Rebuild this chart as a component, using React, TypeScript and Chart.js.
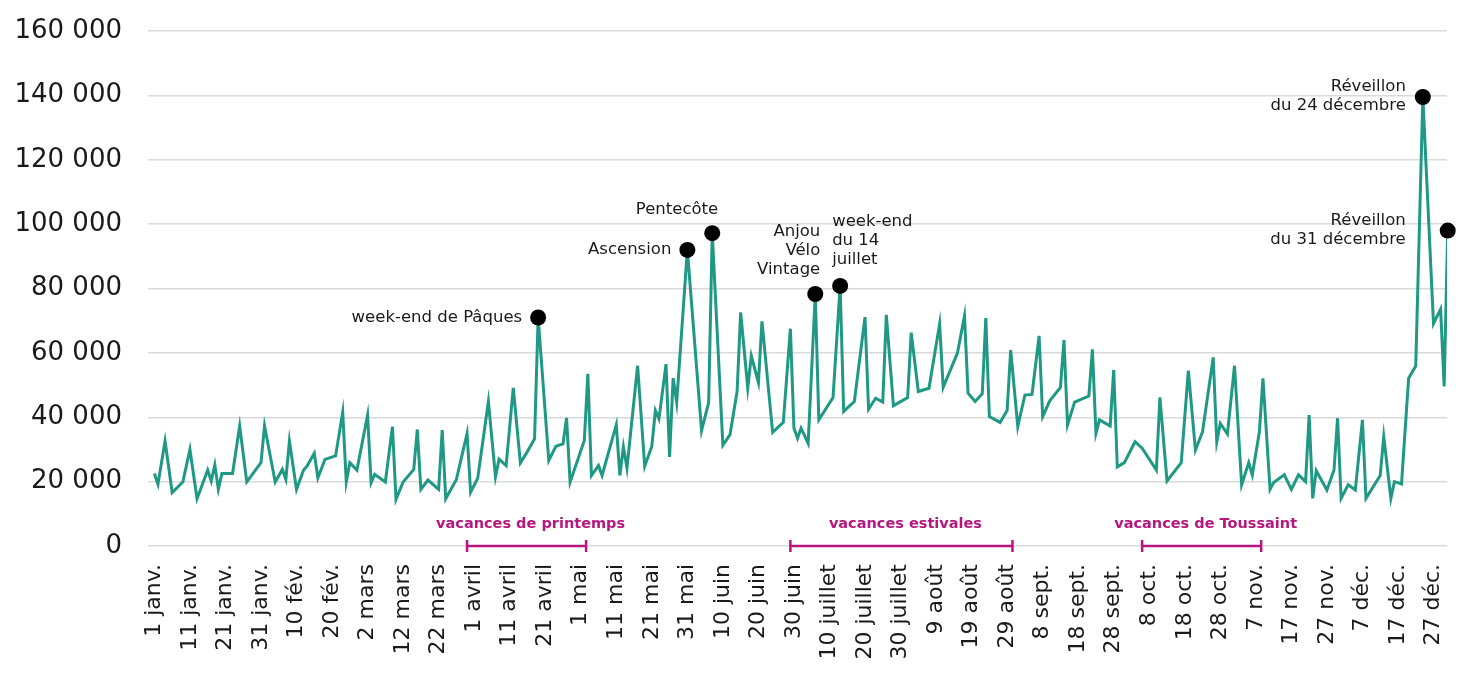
import React, { useEffect, useRef } from 'react';
import { Chart, registerables } from 'chart.js';

Chart.register(...registerables);

// Day index in the year (0 = 1 janv.) and daily visitors at each vertex of the curve
const days = [
  0, 1, 3, 5, 8, 10, 12, 15, 16, 17, 18, 19, 22, 24, 26, 30, 31, 34, 36, 37, 38, 40, 42, 43, 45, 46, 48, 51,
  53, 54, 55, 57, 60, 61, 62, 65, 67, 68, 70, 73, 74, 75, 77, 80, 81, 82, 85, 88, 89,
  91, 94, 96, 97, 99, 101, 103, 105, 107, 108, 111, 113, 115, 116, 117, 121, 122, 123, 125, 126, 130, 131,
  132, 133, 136, 138, 140, 141, 142, 144, 145, 146, 147, 150, 154, 156, 157, 160, 162, 164, 165, 167, 168,
  170, 171, 174, 177, 179, 180, 181, 182, 184, 186, 187, 191, 193, 194, 197, 200, 201, 203, 205, 206, 208,
  212, 213, 215, 218, 221, 222, 226, 228, 229, 231, 233, 234, 235, 238, 240, 241, 243, 245, 247, 249, 250,
  252, 255, 256, 257, 259, 263, 264, 265, 266, 269, 270, 271, 273, 276, 278, 282, 283, 285, 289, 291, 293,
  295, 298, 299, 300, 302, 304, 306, 308, 309, 311, 312, 314, 315, 318, 320, 322, 324, 325, 326, 327, 330,
  332, 333, 334, 336, 338, 340, 341, 345, 346, 348, 349, 351, 353, 355, 357, 360, 362, 363, 364,
];
const visitors = [
  22500, 19200, 32600, 16600, 19900, 30000, 14700, 23600, 20200, 25200, 17600, 22500, 22500, 37300, 19900,
  25900, 37300, 19900, 23800, 20700, 32600, 17600, 23600, 24900, 28800, 21200, 26900, 28000,
  41600, 19900, 25900, 23600, 40600, 19700, 22300, 19900, 37100, 14500, 19900, 23800, 36200, 17600, 20500,
  17600, 36000, 14700, 20700, 35000, 16700,
  21100, 44900, 21500, 27000, 25000, 49100, 25800, 29400, 33300, 71000, 26600, 31000, 31700, 39800, 19800,
  32800, 53500, 21900, 25000, 21900, 37700, 21900,
  30800, 24200, 56000, 24800, 31000, 42100, 39500, 56500, 27700, 52200, 44600, 92000, 35900, 44600, 97200,
  31300, 34600, 48000, 72600, 49100, 59100,
  50800, 69800, 35300, 38400, 67500, 36600, 33500, 36600, 31900, 78300, 39200, 46100, 80800, 41800, 44900,
  71100, 42500, 45900, 44700, 71800, 43600,
  46100, 66300, 48000, 49000, 69000, 49300, 59900, 71500, 47500, 44900, 47300, 70800, 40200, 38400, 42100,
  60900, 37100, 46900, 47100, 65300, 40200,
  45100, 49300, 64000, 37600, 44700, 46600, 61100, 35000, 39200, 37300, 54700, 24600, 25900, 32400, 30400,
  23600, 46200, 20200, 25900, 54500, 29800,
  35500, 58600, 32400, 38100, 34800, 56000, 19000, 25900, 22100, 35500, 52100, 17600, 19700, 22100, 17600,
  22100, 20000, 40700, 14800, 23400, 17400,
  23600, 39700, 14800, 19000, 17400, 39200, 14800, 21900, 34000, 14800, 20000, 19300, 52100, 55900, 139500,
  69100, 73600, 49600, 98000,
];

const tickDays = [
  0, 10, 20, 30, 40, 50, 60, 70, 80, 90, 100, 110, 120, 130, 140, 150, 160, 170, 180, 190, 200, 210, 220,
  230, 240, 250, 260, 270, 280, 290, 300, 310, 320, 330, 340, 350, 360,
];
const tickLabels = [
  '1 janv.', '11 janv.', '21 janv.', '31 janv.', '10 fév.', '20 fév.', '2 mars', '12 mars', '22 mars',
  '1 avril', '11 avril', '21 avril', '1 mai', '11 mai', '21 mai', '31 mai', '10 juin', '20 juin', '30 juin',
  '10 juillet', '20 juillet', '30 juillet', '9 août', '19 août', '29 août', '8 sept.', '18 sept.', '28 sept.',
  '8 oct.', '18 oct.', '28 oct.', '7 nov.', '17 nov.', '27 nov.', '7 déc.', '17 déc.', '27 déc.',
];
const yTicks = [0, 20000, 40000, 60000, 80000, 100000, 120000, 140000, 160000];

const eventDays = [108, 150, 157, 186, 193, 357, 364];
const eventLabels = [
  ['week-end de Pâques'],
  ['Ascension'],
  ['Pentecôte'],
  ['Anjou', 'Vélo', 'Vintage'],
  ['week-end', 'du 14', 'juillet'],
  ['Réveillon', 'du 24 décembre'],
  ['Réveillon', 'du 31 décembre'],
];

const holidayNames = ['vacances de printemps', 'vacances estivales', 'vacances de Toussaint'];
const holidayStart = [88, 179, 278];
const holidayEnd = [121.5, 241.5, 311.5];

// label placement (style): align, dx, dy of the first line centre relative to the dot
const eventLabelStyle = [
  { align: 'right', dx: -16, dy: 0 },
  { align: 'right', dx: -16, dy: 0 },
  { align: 'right', dx: 6, dy: -23 },
  { align: 'right', dx: 5, dy: -62 },
  { align: 'left', dx: -8, dy: -64 },
  { align: 'right', dx: -17, dy: -10 },
  { align: 'right', dx: -42, dy: -10 },
];

const TEAL = '#1f9983';
const MAGENTA = '#b5177e';
const TEXT = '#1a1a1a';
const FONT = '"DejaVu Sans", sans-serif';

const fmt = (v: number) => String(v).replace(/\B(?=(\d{3})+(?!\d))/g, ' ');

const zeroPad = (axis: any) => {
  axis.paddingLeft = 0;
  axis.paddingRight = 0;
  axis.paddingTop = 0;
  axis.paddingBottom = 0;
};

const overlayPlugin = {
  id: 'overlay',
  afterDatasetsDraw(chart: any) {
    const { ctx } = chart;
    const x = chart.scales.x;
    const y = chart.scales.y;
    const y0 = y.getPixelForValue(0);
    ctx.save();
    holidayStart.forEach((s, i) => {
      const x1 = x.getPixelForValue(s);
      const x2 = x.getPixelForValue(holidayEnd[i]);
      ctx.strokeStyle = MAGENTA;
      ctx.lineWidth = 2.5;
      ctx.beginPath();
      ctx.moveTo(x1, y0);
      ctx.lineTo(x2, y0);
      ctx.moveTo(x1, y0 - 6);
      ctx.lineTo(x1, y0 + 6);
      ctx.moveTo(x2, y0 - 6);
      ctx.lineTo(x2, y0 + 6);
      ctx.stroke();
      ctx.fillStyle = MAGENTA;
      ctx.font = 'bold 14.5px ' + FONT;
      ctx.textAlign = 'center';
      ctx.textBaseline = 'middle';
      ctx.fillText(holidayNames[i], (x1 + x2) / 2 + 4, y0 - 22);
    });
    ctx.fillStyle = TEXT;
    ctx.font = '16.5px ' + FONT;
    ctx.textBaseline = 'middle';
    eventDays.forEach((d, i) => {
      const v = visitors[days.indexOf(d)];
      const px = x.getPixelForValue(d);
      const py = y.getPixelForValue(v);
      const st = eventLabelStyle[i];
      ctx.textAlign = st.align;
      eventLabels[i].forEach((line, j) => {
        ctx.fillText(line, px + st.dx, py + st.dy + j * 19);
      });
    });
    ctx.restore();
  },
};

export default function App() {
  const ref = useRef<HTMLCanvasElement>(null);
  useEffect(() => {
    if (!ref.current) return;
    const chart = new Chart(ref.current, {
      type: 'line',
      data: {
        datasets: [
          {
            data: eventDays.map((d) => ({ x: d, y: visitors[days.indexOf(d)] })),
            showLine: false,
            pointRadius: 8,
            pointBackgroundColor: '#000',
            pointBorderWidth: 0,
            clip: false,
          } as any,
          {
            data: days.map((d, i) => ({ x: d, y: visitors[i] })),
            borderColor: TEAL,
            borderWidth: 3,
            pointRadius: 0,
            tension: 0,
            fill: false,
          },
        ],
      },
      options: {
        animation: false,
        responsive: true,
        maintainAspectRatio: false,
        layout: { padding: { left: 8, top: 31, right: 16, bottom: 0 } },
        plugins: { legend: { display: false }, tooltip: { enabled: false } },
        events: [],
        scales: {
          x: {
            type: 'linear',
            min: -1.8,
            max: 363.8,
            afterBuildTicks: (axis: any) => {
              axis.ticks = tickDays.map((v) => ({ value: v }));
            },
            afterFit: (axis: any) => {
              axis.height = 140;
              zeroPad(axis);
            },
            grid: { display: false },
            border: { display: false },
            ticks: {
              autoSkip: false,
              minRotation: 90,
              maxRotation: 90,
              padding: 10,
              color: TEXT,
              font: { family: FONT, size: 22 },
              callback: (v: any) => tickLabels[tickDays.indexOf(Number(v))] ?? '',
            },
          },
          y: {
            min: 0,
            max: 160000,
            afterBuildTicks: (axis: any) => {
              axis.ticks = yTicks.map((v) => ({ value: v }));
            },
            afterFit: (axis: any) => {
              axis.width = 140;
              zeroPad(axis);
            },
            grid: { color: '#dadada', lineWidth: 1.5, drawTicks: false },
            border: { display: false },
            ticks: {
              padding: 26,
              color: TEXT,
              font: { family: FONT, size: 26 },
              callback: (v: any) => fmt(Number(v)),
            },
          },
        },
      },
      plugins: [overlayPlugin],
    } as any);
    return () => chart.destroy();
  }, []);
  return (
    <div style={{ position: 'fixed', left: 0, top: 0, width: 1463, height: 686, background: '#fff' }}>
      <canvas ref={ref} />
    </div>
  );
}
